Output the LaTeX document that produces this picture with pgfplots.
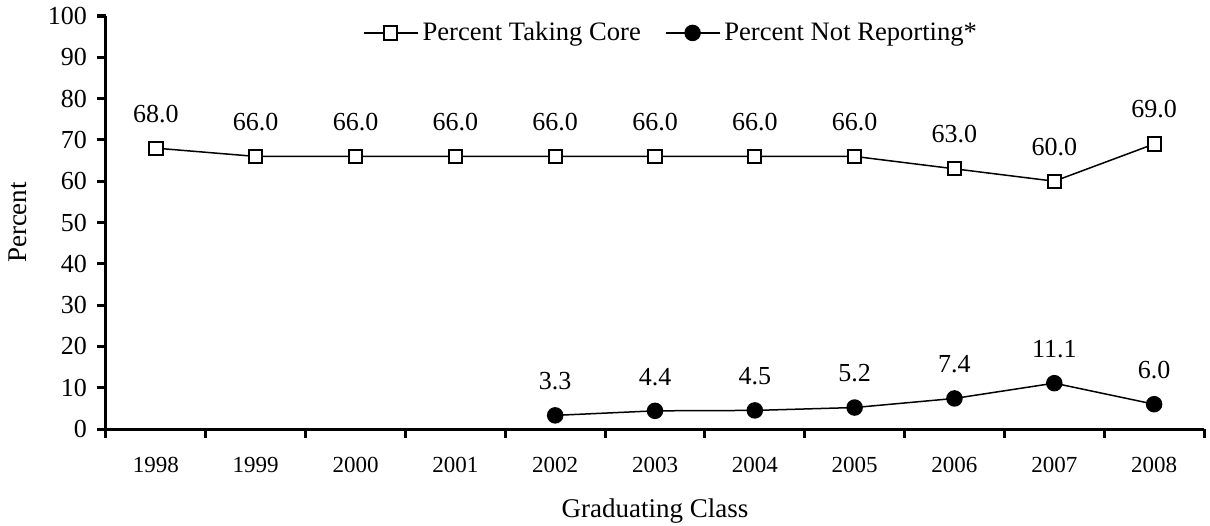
\documentclass[border=0pt]{standalone}
\usepackage{pgfplots}
\pgfplotsset{compat=1.18}
\usepackage{fontspec}
\setmainfont{Liberation Serif}
\begin{document}
\begin{tikzpicture}[x=1pt,y=1pt]
\useasboundingbox (-53,-48) rectangle (552,214.5);
\begin{axis}[
  at={(0,0)}, anchor=south west,
  scale only axis, width=549pt, height=206.5pt,
  xmin=-0.5, xmax=10.5, ymin=0, ymax=100,
  axis x line*=bottom, axis y line*=left,
  axis line style={line width=1.5pt,-},
  xtick={0,1,2,3,4,5,6,7,8,9,10},
  xticklabels={1998,1999,2000,2001,2002,2003,2004,2005,2006,2007,2008},
  minor xtick={-0.5,0.5,1.5,2.5,3.5,4.5,5.5,6.5,7.5,8.5,9.5,10.5},
  ytick={0,10,20,30,40,50,60,70,80,90,100},
  tick align=outside,
  major tick length=4.5pt, minor tick length=4.5pt,
  major x tick style={draw=none},
  minor x tick style={line width=1.5pt,black},
  ytick style={line width=1.5pt,black},
  xticklabel style={font=\fontsize{11.5}{13}\selectfont, yshift=-6pt},
  yticklabel style={font=\fontsize{13}{15}\selectfont, xshift=-1.5pt},
  /pgf/number format/assume math mode=true,
  xlabel={Graduating Class},
  ylabel={Percent},
  label style={font=\fontsize{13.5}{15}\selectfont},
  xlabel style={at={(axis description cs:0.5,-0.1986)}, anchor=center},
  ylabel style={at={(axis description cs:-0.0801,0.5)}, anchor=center},
  legend style={at={(axis description cs:0.5155,0.959)}, anchor=center,
    draw=none, fill=none, font=\fontsize{13.3}{15}\selectfont,
    /tikz/every even column/.append style={column sep=10pt}},
  legend columns=2,
  legend image code/.code={\draw[mark repeat=2,mark phase=2,#1] plot coordinates {(0pt,0pt)(13.5pt,0pt)(27pt,0pt)};},
  nodes near coords,
  nodes near coords style={font=\fontsize{13}{15}\selectfont, black, yshift=9pt,
     /pgf/number format/fixed, /pgf/number format/fixed zerofill, /pgf/number format/precision=1},
  clip=false,
]
\addplot[black, line width=0.75pt, mark=square*, mark size=3.3pt,
  mark options={fill=white, line width=1pt}] coordinates {
  (0,68.0) (1,66.0) (2,66.0) (3,66.0) (4,66.0) (5,66.0) (6,66.0) (7,66.0) (8,63.0) (9,60.0) (10,69.0)};
\addlegendentry{Percent Taking Core}
\addplot[black, line width=0.75pt, mark=*, mark size=3.75pt,
  mark options={fill=black}] coordinates {
  (4,3.3) (5,4.4) (6,4.5) (7,5.2) (8,7.4) (9,11.1) (10,6.0)};
\addlegendentry{Percent Not Reporting*}
\end{axis}
\end{tikzpicture}
\end{document}
